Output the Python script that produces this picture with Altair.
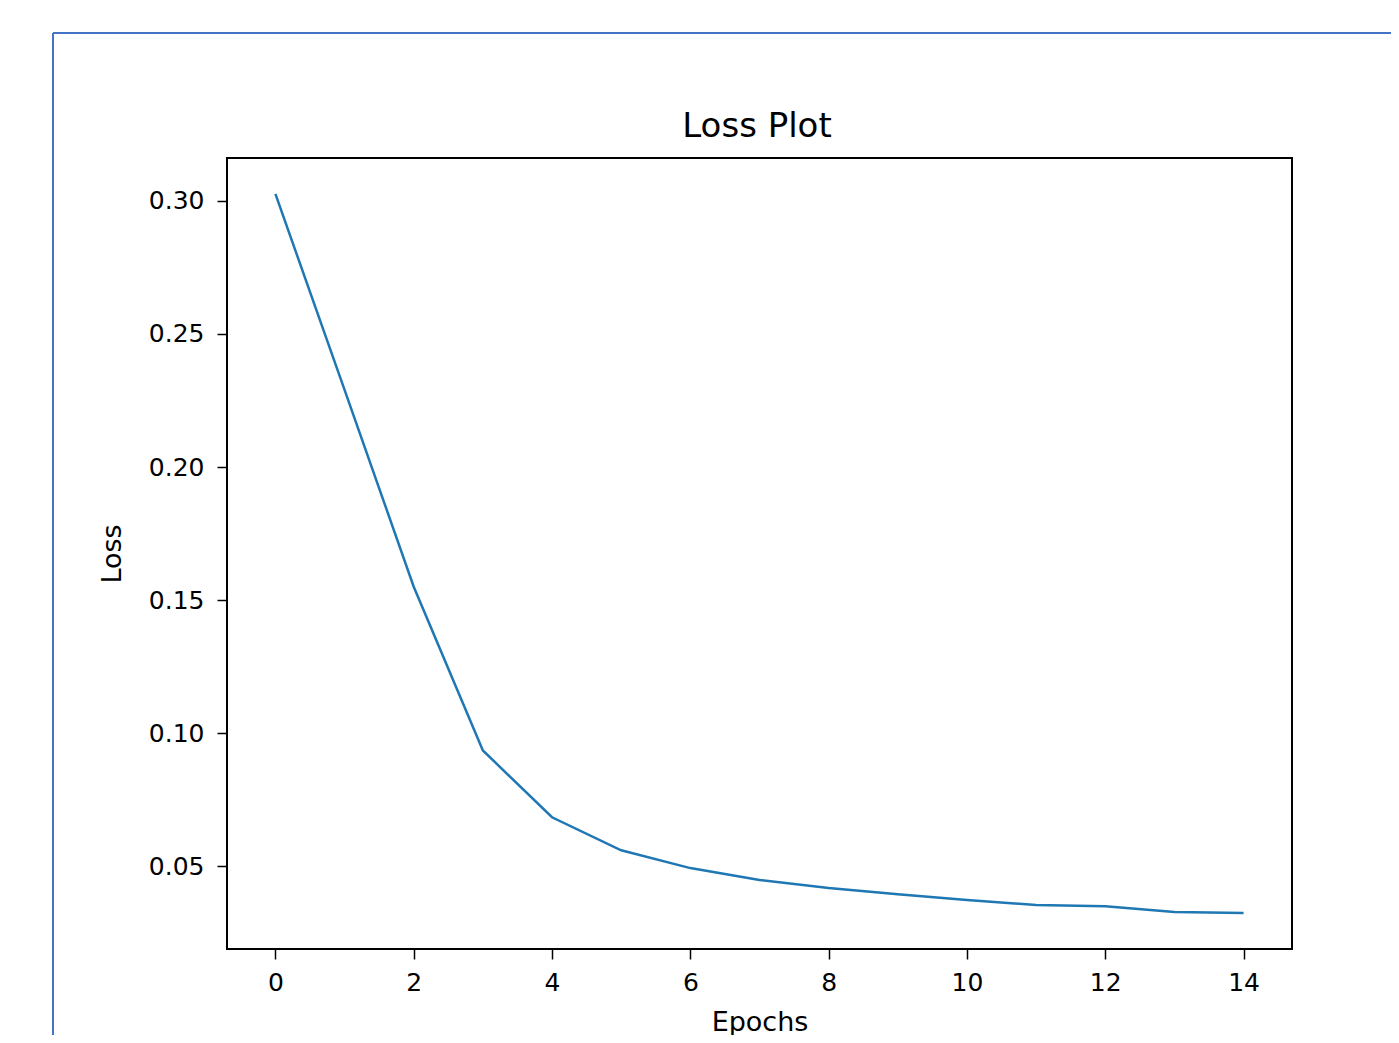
import altair as alt
import pandas as pd

epochs = list(range(15))
loss = [0.3026, 0.229, 0.155, 0.0935, 0.0684, 0.0560, 0.0493, 0.0448,
        0.0418, 0.0395, 0.0373, 0.0354, 0.0350, 0.0328, 0.0324]
x_ticks = [0, 2, 4, 6, 8, 10, 12, 14]
y_ticks = [0.05, 0.10, 0.15, 0.20, 0.25, 0.30]
title_text = "Loss Plot"

df = pd.DataFrame({"Epochs": epochs, "Loss": loss})

FONT = "DejaVu Sans"

line = alt.Chart(df).mark_line(color="#1f77b4", strokeWidth=2.5).encode(
    x=alt.X("Epochs:Q",
            scale=alt.Scale(domain=[-0.7, 14.7], nice=False, zero=False),
            axis=alt.Axis(values=x_ticks, format="d", title="Epochs",
                          tickSize=10, labelPadding=11, titlePadding=14)),
    y=alt.Y("Loss:Q",
            scale=alt.Scale(domain=[0.0189, 0.3161], nice=False, zero=False),
            axis=alt.Axis(values=y_ticks, format=".2f", title="Loss",
                          tickSize=10, labelPadding=13, titlePadding=22)),
)

one = alt.Data(values=[{}])

frame_left = alt.Chart(one).mark_rule(
    color="#4472C4", strokeWidth=2
).encode(x=alt.value(-174), y=alt.value(-125), y2=alt.value(900))

frame_top = alt.Chart(one).mark_rule(
    color="#4472C4", strokeWidth=2
).encode(x=alt.value(-174), x2=alt.value(1200), y=alt.value(-125))

title = alt.Chart(one).mark_text(
    font=FONT, fontSize=34, color="black", align="center",
    baseline="alphabetic"
).encode(x=alt.value(530), y=alt.value(-21), text=alt.value(title_text))

chart = alt.layer(frame_left, frame_top, title, line).properties(
    width=1065,
    height=791,
    autosize=alt.AutoSizeParams(type="none"),
    padding={"left": 219, "top": 150, "right": 99, "bottom": 86},
    background="white",
).configure_view(
    stroke="black", strokeWidth=2
).configure_axis(
    grid=False, domain=False,
    tickColor="black", tickWidth=1.5,
    labelFont=FONT, labelFontSize=25, labelColor="black",
    titleFont=FONT, titleFontSize=27, titleFontWeight="normal",
    titleColor="black",
)

chart.save("out.html", embed_options={"renderer": "svg", "actions": False})
